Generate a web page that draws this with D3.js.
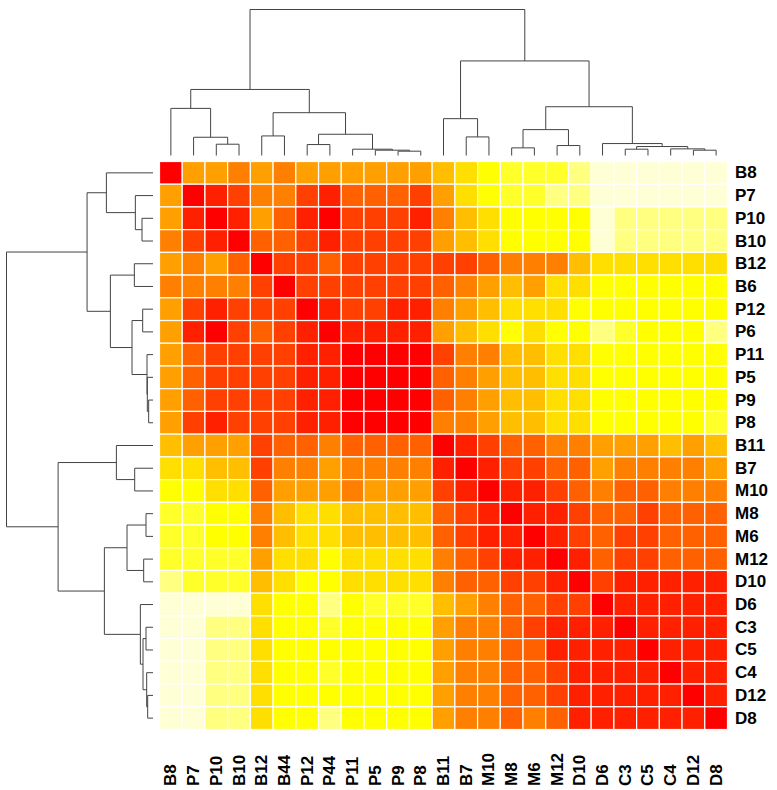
<!DOCTYPE html>
<html><head><meta charset="utf-8">
<script src="https://cdn.jsdelivr.net/npm/d3@7"></script>
<style>body{margin:0;background:#fff}</style>
</head><body>
<svg id="chart" width="777" height="790"></svg>
<script>
const colLabels = ["B8","P7","P10","B10","B12","B44","P12","P44","P11","P5","P9","P8","B11","B7","M10","M8","M6","M12","D10","D6","C3","C5","C4","D12","D8"];
const rowLabels = ["B8","P7","P10","B10","B12","B6","P12","P6","P11","P5","P9","P8","B11","B7","M10","M8","M6","M12","D10","D6","C3","C5","C4","D12","D8"];
// heat.colors(12): level 0 = highest value (red) ... 11 = lowest (pale yellow)
const heatColors = ["#FF0000","#FF2000","#FF4000","#FF6000","#FF8000","#FF9F00","#FFBF00","#FFDF00","#FFFF00","#FFFF2A","#FFFF80","#FFFFD5"];
// colour level of each cell, rows top to bottom, columns left to right
const values = [
 [0,5,5,4,5,4,5,5,5,5,5,5,6,7,8,9,9,9,10,11,11,11,11,11,11],
 [5,0,1,2,4,4,2,1,3,3,3,2,5,7,8,9,9,10,10,11,11,11,11,11,11],
 [5,1,0,1,5,3,1,0,2,2,2,1,4,6,7,8,8,8,8,11,10,10,10,10,10],
 [4,2,1,0,3,3,2,1,2,2,2,2,5,6,7,8,8,8,8,11,10,10,10,10,10],
 [5,4,5,3,0,2,2,3,2,2,2,2,2,2,3,4,4,4,6,7,7,7,7,7,7],
 [4,4,4,4,2,0,2,2,2,2,2,2,3,4,5,6,5,7,7,8,8,8,8,8,8],
 [5,2,1,2,2,2,0,1,2,2,1,1,4,5,6,7,7,7,8,8,8,8,8,8,8],
 [5,1,0,2,3,2,1,0,1,1,1,1,5,6,7,8,7,8,8,10,9,8,8,8,10],
 [5,3,2,2,2,2,1,1,0,0,0,0,2,4,4,6,6,7,7,8,8,8,8,8,8],
 [5,3,2,2,2,2,1,1,0,0,0,0,3,4,5,6,6,7,7,8,8,8,8,8,8],
 [5,3,2,2,2,2,1,1,0,0,0,0,3,4,5,6,6,7,7,8,8,8,8,8,8],
 [5,2,1,2,2,2,1,1,0,0,0,0,4,4,5,6,6,7,7,8,8,8,8,8,9],
 [6,5,5,5,2,3,3,4,3,3,3,3,0,1,2,3,3,4,4,5,5,5,6,5,6],
 [7,7,6,6,2,4,4,5,4,4,4,4,1,0,1,2,2,3,3,5,4,4,4,4,5],
 [8,8,7,7,3,5,5,5,4,5,5,5,2,1,0,1,1,2,3,4,3,3,4,4,4],
 [9,9,8,8,4,6,7,7,6,6,6,6,3,2,1,0,1,1,2,3,3,2,3,3,3],
 [9,9,8,8,4,6,7,7,6,6,6,6,3,2,1,1,0,1,2,3,2,2,3,3,3],
 [9,9,9,9,5,7,7,8,7,7,7,7,4,3,2,1,1,0,1,3,2,2,3,3,3],
 [10,9,9,9,6,7,8,8,7,7,7,7,4,3,3,2,2,1,0,2,1,1,1,1,1],
 [11,11,11,11,7,8,8,10,8,9,9,9,6,5,4,3,3,2,2,0,1,1,1,1,1],
 [11,11,10,10,7,8,8,9,8,8,8,8,5,4,4,3,2,1,1,1,0,1,1,1,1],
 [11,11,10,10,7,8,8,8,8,8,8,8,5,4,4,3,3,1,1,1,1,0,1,1,1],
 [11,11,10,10,7,8,8,9,8,8,8,8,5,4,4,3,3,2,1,1,1,1,0,1,1],
 [11,11,10,10,7,8,8,8,8,8,8,8,5,4,4,3,3,2,1,1,1,1,1,0,1],
 [11,11,10,10,7,8,8,10,8,8,8,8,5,4,4,3,4,3,1,1,1,1,1,1,0]
];
// hclust-style merges: a string = leaf label, a number = earlier merge (1-based)
const colMerge = [["P9","P8"],["P5",1],["D12","D8"],["P11",2],["C3","C5"],["C4",3],["M8","M6"],[5,6],["M12","D10"],["P12","P44"],["P10","B10"],["D6",8],["P7",11],["B7","M10"],["B12","B44"],[10,4],[7,9],["B11",14],[15,16],["B8",13],[17,12],[20,19],[18,21],[22,23]];
const colHeights = [13,16,16,19,19,20,23,27,30,33,34,36,55,56,59,64,78,111,129,142,147,199,285,440];
const rowMerge = [["P9","P8"],["D12","D8"],["P5",1],["P11",3],["C4",2],["C3","C5"],["M8","M6"],["M12","D10"],[6,5],["P12","P6"],["P10","B10"],["D6",9],["P7",11],["B7","M10"],["B12","B6"],[10,4],[7,8],["B11",14],[15,16],["B8",13],[17,12],[20,19],[18,21],[22,23]];
const rowHeights = [13,16,17,18,19,21,21,28,30,31,33,38,53,55,56,63,78,110,128,140,146,198,285,440];

const svg = d3.select("#chart");
const x = d3.scaleBand().domain(colLabels).range([159.5, 727.5]);
const y = d3.scaleBand().domain(rowLabels).range([161.5, 729.5]);
const color = d3.scaleOrdinal().domain(d3.range(heatColors.length)).range(heatColors);

// heatmap cells
const cells = [];
values.forEach((row, i) => row.forEach((v, j) => cells.push({r: rowLabels[i], c: colLabels[j], v})));
svg.append("g").selectAll("rect").data(cells).join("rect")
  .attr("x", d => x(d.c)).attr("y", d => y(d.r))
  .attr("width", x.bandwidth()).attr("height", y.bandwidth())
  .attr("fill", d => color(d.v))
  .attr("stroke", "#fff").attr("stroke-width", 1.2);

// dendrograms
function buildTree(merge, heights, pos) {
  const nodes = [];
  const get = ref => typeof ref === "string" ? {pos: pos(ref), h: 0, leaf: true} : nodes[ref - 1];
  merge.forEach((m, i) => {
    const a = get(m[0]), b = get(m[1]);
    nodes.push({a, b, h: heights[i], pos: (a.pos + b.pos) / 2});
  });
  return nodes;
}
const colNodes = buildTree(colMerge, colHeights, l => x(l) + x.bandwidth() / 2);
const rowNodes = buildTree(rowMerge, rowHeights, l => y(l) + y.bandwidth() / 2);

const hTop = d3.scaleLinear().domain([0, d3.max(colHeights)]).range([155.5, 9.5]);
const hLeft = d3.scaleLinear().domain([0, d3.max(rowHeights)]).range([153, 6.5]);

svg.append("g").selectAll("path").data(colNodes).join("path")
  .attr("d", n => `M${n.a.pos},${hTop(n.a.h)}V${hTop(n.h)}H${n.b.pos}V${hTop(n.b.h)}`)
  .attr("fill", "none").attr("stroke", "#444").attr("stroke-width", 1);

svg.append("g").selectAll("path").data(rowNodes).join("path")
  .attr("d", n => `M${hLeft(n.a.h)},${n.a.pos}H${hLeft(n.h)}V${n.b.pos}H${hLeft(n.b.h)}`)
  .attr("fill", "none").attr("stroke", "#444").attr("stroke-width", 1);

// labels
const font = "'Liberation Sans', Arial, Helvetica, sans-serif";
svg.append("g").selectAll("text").data(rowLabels).join("text")
  .attr("x", 735).attr("y", d => y(d) + y.bandwidth() / 2)
  .attr("dominant-baseline", "central")
  .style("font-family", font).style("font-weight", "bold").style("font-size", "17px")
  .text(d => d);

svg.append("g").selectAll("text").data(colLabels).join("text")
  .attr("transform", d => `translate(${x(d) + x.bandwidth() / 2},786) rotate(-90)`)
  .attr("dominant-baseline", "central")
  .style("font-family", font).style("font-weight", "bold").style("font-size", "17px")
  .text(d => d);
</script>
</body></html>
